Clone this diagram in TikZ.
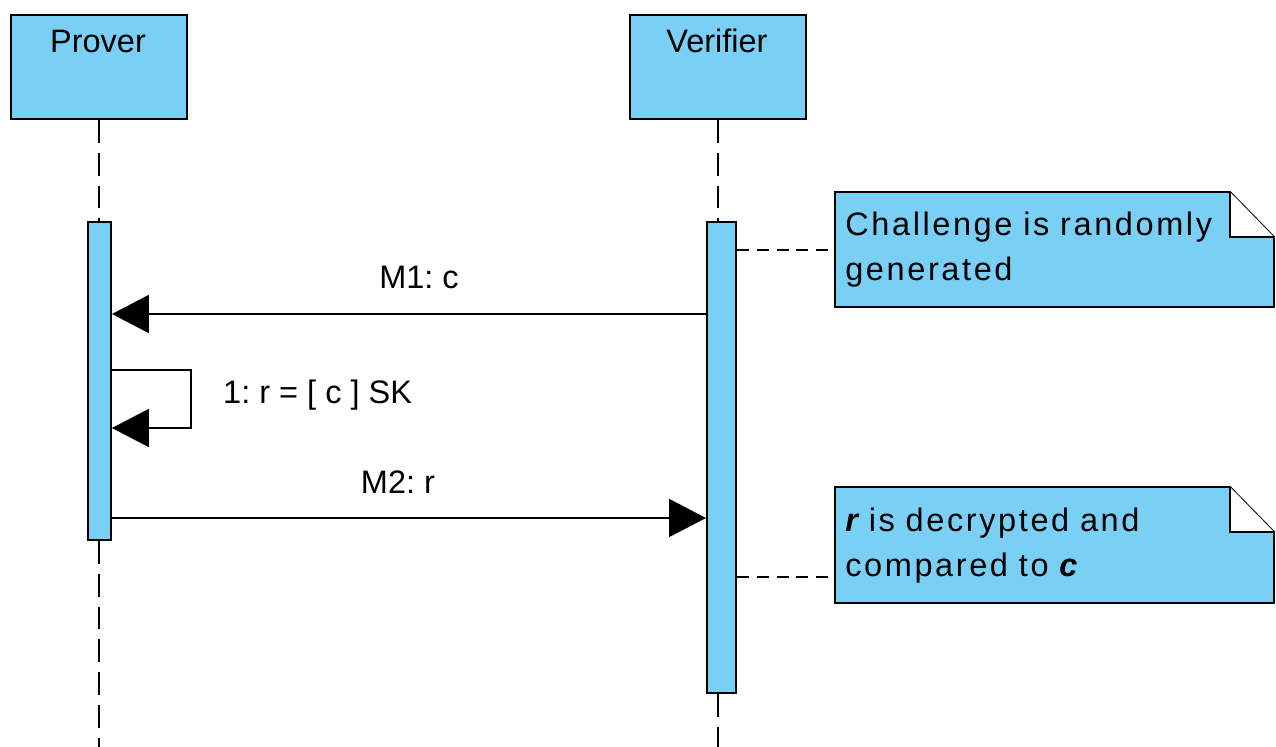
\documentclass[tikz,border=0pt]{standalone}
\usepackage{fontspec}
\setmainfont{Liberation Sans}
\usetikzlibrary{calc,arrows.meta}
\definecolor{umlblue}{RGB}{122,207,245}
\newcommand{\umlfont}{\fontsize{18.5}{25.5}\selectfont\frenchspacing}
\tikzset{
	lane/.style={draw, line width=1.1pt, fill=umlblue, anchor=north west, inner sep=0pt, minimum width=3.52cm, minimum height=2.08cm},
	act/.style={draw, line width=1.1pt, fill=umlblue, anchor=north west, inner sep=0pt},
	lifeline/.style={line width=1.1pt, dash pattern=on 13pt off 5.7pt},
	anchorline/.style={line width=1.1pt, dash pattern=on 6.8pt off 4.5pt},
	msg/.style={line width=1.1pt, -{Triangle[length=0.74cm, width=0.76cm]}},
	notebody/.style={line width=1.1pt, fill=umlblue},
	notetext/.style={anchor=north west, inner xsep=0.2cm, inner ysep=0pt, minimum width=8.78cm, minimum height=2.3cm, text width=8.38cm, align=left, font=\umlfont\addfontfeature{LetterSpace=8}},
}
\begin{document}
\begin{tikzpicture}[x=0.02cm, y=-0.02cm, font=\umlfont]
			%%%%% START %%%%%
			\useasboundingbox (0, 0) rectangle (1276, 747);
			
			% the two parties
			\node[lane] (prover) at (10, 14) {};
			\node[anchor=base] (proverName) at (98, 52) {Prover};
			\node[lane] (verifier) at (629, 14) {};
			\node[anchor=base] (verifierName) at (717, 52) {Verifier};
			
			% activations
			\node[act, minimum width=0.46cm, minimum height=6.36cm] (proverAct) at (87, 221) {};
			\node[act, minimum width=0.58cm, minimum height=9.42cm] (verifierAct) at (706, 221) {};
			
			% lifelines
			\draw[lifeline] (prover.south) -- (prover.south |- proverAct.north);
			\draw[lifeline] (prover.south |- proverAct.south) -- (prover.south |- 0, 747);
			\draw[lifeline] (verifier.south) -- (verifier.south |- verifierAct.north);
			\draw[lifeline] (verifier.south |- verifierAct.south) -- (verifier.south |- 0, 747);
			
			% messages
			\draw[msg] (verifierAct.west |- 0, 314) -- (proverAct.east |- 0, 314);
			\node[anchor=base] (m1) at (419, 288) {M1: c};
			
			\draw[msg] (proverAct.east |- 0, 370) -- ++(79, 0) |- (proverAct.east |- 0, 428);
			\node[anchor=base west] (sign) at (217, 403) {1: r = [ c ] SK};
			
			\draw[msg] (proverAct.east |- 0, 518) -- (verifierAct.west |- 0, 518);
			\node[anchor=base] (m2) at (398, 493) {M2: r};
			
			% notes with folded corner
			\filldraw[notebody] (835, 192) -- (1230, 192) -- (1274, 237) -- (1274, 307) -- (835, 307) -- cycle;
			\filldraw[line width=1.1pt, fill=white] (1230, 192) -- (1230, 237) -- (1274, 237);
			\node[notetext] (note1) at (835, 192) {Challenge is randomly\\generated};
			
			\filldraw[notebody] (835, 487) -- (1230, 487) -- (1274, 532) -- (1274, 603) -- (835, 603) -- cycle;
			\filldraw[line width=1.1pt, fill=white] (1230, 487) -- (1230, 532) -- (1274, 532);
			\node[notetext, minimum height=2.32cm] (note2) at (835, 487) {{\bfseries\itshape r} is decrypted and\\compared to {\bfseries\itshape c}};
			
			\draw[anchorline] (verifierAct.east |- note1.west) -- (note1.west);
			\draw[anchorline] (verifierAct.east |- 0, 577) -- (note2.west |- 0, 577);
			
			%%%%% END %%%%%
\end{tikzpicture}
\end{document}
